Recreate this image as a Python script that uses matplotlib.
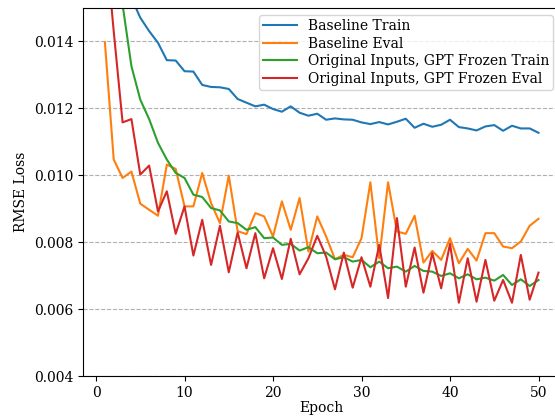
import matplotlib
matplotlib.use("Agg")
import matplotlib.pyplot as plt

epochs = list(range(1, 51))

baseline_train = [0.0175, 0.0165, 0.0158, 0.0153, 0.01471, 0.01431, 0.01396, 0.01344, 0.01343, 0.01311,
                  0.01310, 0.01270, 0.01264, 0.01263, 0.01258, 0.01228, 0.01217, 0.01206, 0.01211, 0.01198,
                  0.01190, 0.01206, 0.01187, 0.01178, 0.01184, 0.01166, 0.01170, 0.01167, 0.01166, 0.01158,
                  0.01153, 0.01159, 0.01152, 0.01160, 0.01169, 0.01142, 0.01154, 0.01145, 0.01151, 0.01166,
                  0.01144, 0.01140, 0.01134, 0.01146, 0.01150, 0.01133, 0.01148, 0.01140, 0.01140, 0.01127]

baseline_eval = [0.01398, 0.01047, 0.00992, 0.01011, 0.00915, 0.00897, 0.00879, 0.01032, 0.01019, 0.00907,
                 0.00907, 0.01007, 0.00917, 0.00857, 0.00999, 0.00833, 0.00824, 0.00887, 0.00877, 0.00817,
                 0.00922, 0.00837, 0.00932, 0.00772, 0.00877, 0.00817, 0.00749, 0.00762, 0.00755, 0.00812,
                 0.00979, 0.00752, 0.00979, 0.00832, 0.00825, 0.00879, 0.00739, 0.00774, 0.00747, 0.00812,
                 0.00737, 0.00780, 0.00745, 0.00827, 0.00827, 0.00787, 0.00782, 0.00802, 0.00849, 0.00870]

gpt_frozen_train = [0.0190, 0.0170, 0.0151, 0.01326, 0.01226, 0.01168, 0.01097, 0.01047, 0.01007, 0.00992,
                    0.00942, 0.00935, 0.00902, 0.00895, 0.00862, 0.00857, 0.00837, 0.00845, 0.00812, 0.00814,
                    0.00792, 0.00795, 0.00775, 0.00785, 0.00767, 0.00769, 0.00749, 0.00755, 0.00742, 0.00747,
                    0.00725, 0.00742, 0.00722, 0.00727, 0.00712, 0.00729, 0.00714, 0.00712, 0.00699, 0.00707,
                    0.00692, 0.00704, 0.00689, 0.00694, 0.00685, 0.00702, 0.00672, 0.00689, 0.00669, 0.00687]

gpt_frozen_eval = [0.0172, 0.0143, 0.01158, 0.01168, 0.01002, 0.01029, 0.00892, 0.00952, 0.00825, 0.00907,
                   0.00760, 0.00867, 0.00732, 0.00849, 0.00710, 0.00829, 0.00722, 0.00827, 0.00692, 0.00782,
                   0.00690, 0.00810, 0.00704, 0.00752, 0.00819, 0.00757, 0.00659, 0.00769, 0.00664, 0.00755,
                   0.00667, 0.00792, 0.00633, 0.00872, 0.00667, 0.00784, 0.00649, 0.00767, 0.00662, 0.00795,
                   0.00619, 0.00752, 0.00622, 0.00747, 0.00625, 0.00687, 0.00619, 0.00762, 0.00628, 0.00709]

series_labels = ["Baseline Train", "Baseline Eval",
                 "Original Inputs, GPT Frozen Train", "Original Inputs, GPT Frozen Eval"]
y_ticks = [0.004, 0.006, 0.008, 0.010, 0.012, 0.014]
x_ticks = [0, 10, 20, 30, 40, 50]

plt.rcParams['font.family'] = ['DejaVu Serif']
plt.rcParams['font.size'] = 10

fig = plt.figure(figsize=(5.55, 4.17), dpi=100)
ax = fig.add_axes([83.2 / 555, 41 / 417, (560.2 - 83.2) / 555, 368 / 417])

colors = ["#1f77b4", "#ff7f0e", "#2ca02c", "#d62728"]
for vals, lab, c in zip([baseline_train, baseline_eval, gpt_frozen_train, gpt_frozen_eval],
                        series_labels, colors):
    ax.plot(epochs, vals, color=c, lw=1.5, label=lab)

ax.set_xlim(-1.45, 52.45)
ax.set_ylim(0.004, 0.015)
ax.set_yticks(y_ticks)
ax.set_xticks(x_ticks)
ax.tick_params(labelsize=10)
ax.yaxis.grid(True, linestyle='--', color='#b0b0b0', lw=0.8)
ax.set_axisbelow(True)
ax.set_xlabel("Epoch", fontsize=10, labelpad=1)
ax.set_ylabel("RMSE Loss", fontsize=10)
ax.legend(loc="upper right", fontsize=10, borderaxespad=0.5,
          labelspacing=0.25, borderpad=0.3, handlelength=2.4, handletextpad=0.8)

fig.savefig("out.png", dpi=100)
